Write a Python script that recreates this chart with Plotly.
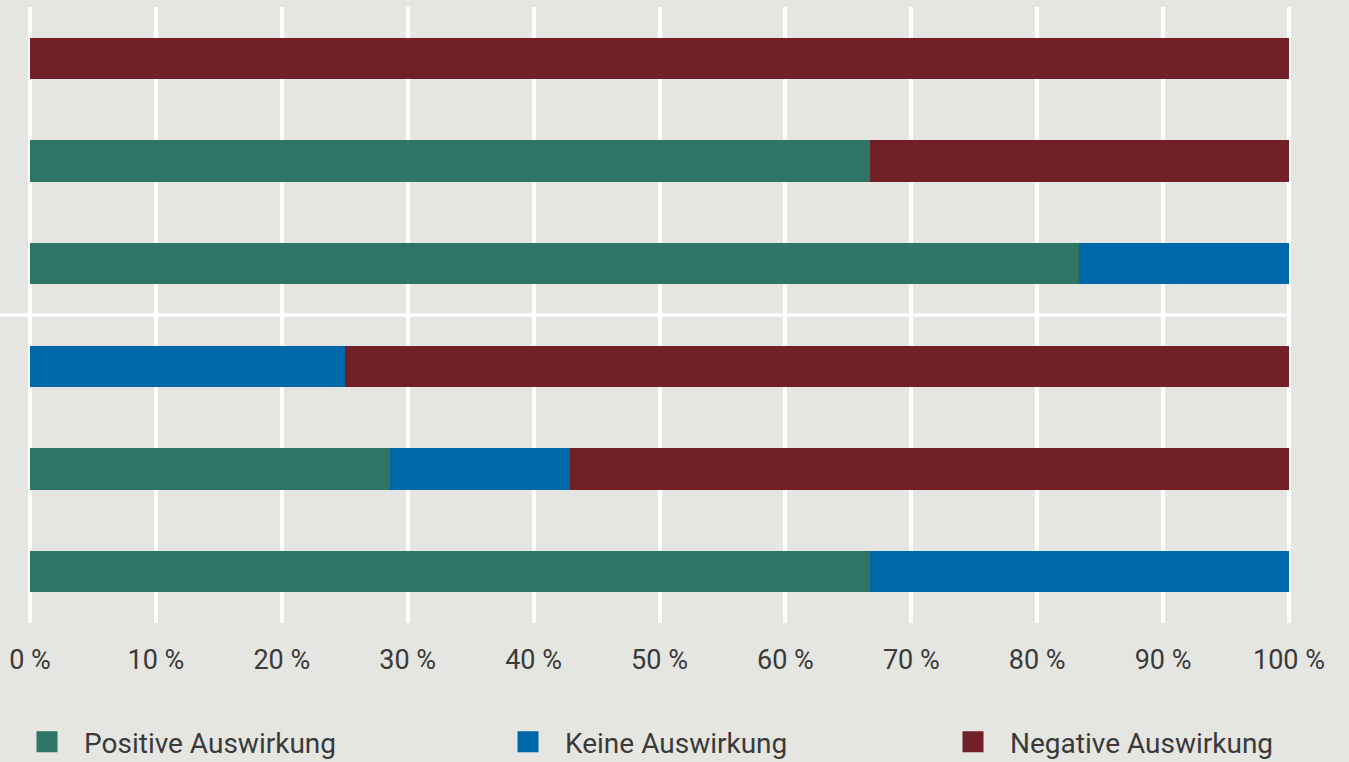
import plotly.graph_objects as go

# Data (top to bottom)
rows = ["1", "2", "3", "4", "5", "6"]
positive = [0.0, 66.7, 83.3, 0.0, 28.6, 66.7]
keine = [0.0, 0.0, 16.7, 25.0, 14.3, 33.3]
negative = [100.0, 33.3, 0.0, 75.0, 57.1, 0.0]
series_names = ["Positive Auswirkung", "Keine Auswirkung", "Negative Auswirkung"]
tick_vals = [0, 10, 20, 30, 40, 50, 60, 70, 80, 90, 100]
tick_text = [f"{v} %" for v in tick_vals]

colors = ["#2E7565", "#0067A8", "#722028"]
bg = "#E5E5E1"
font_family = "Roboto, 'Open Sans', sans-serif"
text_color = "#3A3A3A"

W, H = 1349, 762
ML, MR = 20, 50
plot_w = W - ML - MR
x_min, x_max = -0.794, 100.794

fig = go.Figure()
legend_ids = ["legend", "legend2", "legend3"]
for vals, name, col, lg in zip([positive, keine, negative], series_names, colors, legend_ids):
    fig.add_trace(go.Bar(
        y=rows, x=vals, orientation="h", name=name,
        marker=dict(color=col, line=dict(width=0)),
        width=0.4, showlegend=False, legendgroup=name, hoverinfo="x+name",
    ))
    # legend proxy with a larger square
    fig.add_trace(go.Scatter(
        x=[None], y=[None], mode="markers", name=name, legend=lg, legendgroup=name,
        marker=dict(symbol="square", size=16, color=col, line=dict(color=col, width=5)),
    ))

# separator line from the left page edge to the 100 % gridline
sep_x0 = -ML / plot_w
sep_x1 = (100 - x_min) / (x_max - x_min)

fig.update_layout(
    barmode="stack",
    width=W, height=H,
    paper_bgcolor=bg, plot_bgcolor=bg,
    margin=dict(l=ML, r=MR, t=7, b=139),
    font=dict(family=font_family, color=text_color, size=28),
    bargap=0.6,
    xaxis=dict(
        range=[x_min, x_max], tickvals=tick_vals, ticktext=tick_text,
        showgrid=True, gridcolor="white", gridwidth=3.5, zeroline=False,
        showline=False, ticks="", ticklabelstandoff=18,
        tickfont=dict(size=27, color=text_color, family=font_family),
        fixedrange=True,
    ),
    yaxis=dict(
        categoryorder="array", categoryarray=rows, autorange="reversed",
        showticklabels=False, showgrid=False, zeroline=False, ticks="",
        fixedrange=True,
    ),
    shapes=[dict(
        type="line", xref="x domain", yref="y",
        x0=sep_x0, x1=sep_x1, y0=2.5, y1=2.5,
        line=dict(color="white", width=3.5), layer="below",
    )],
)

legend_x_px = [10, 491, 936]
for lg, xp in zip(legend_ids, legend_x_px):
    fig.update_layout({lg: dict(
        xref="container", yref="container",
        x=xp / W, y=1 - 742 / H, xanchor="left", yanchor="middle",
        orientation="h", bgcolor="rgba(0,0,0,0)", borderwidth=0,
        itemwidth=64,
        font=dict(size=28, color=text_color, family=font_family),
        itemclick="toggle",
    )})

fig.write_html(
    "out.html",
    config={"displayModeBar": False},
    post_script="document.body.style.margin='0';document.body.style.background='" + bg + "';",
)
